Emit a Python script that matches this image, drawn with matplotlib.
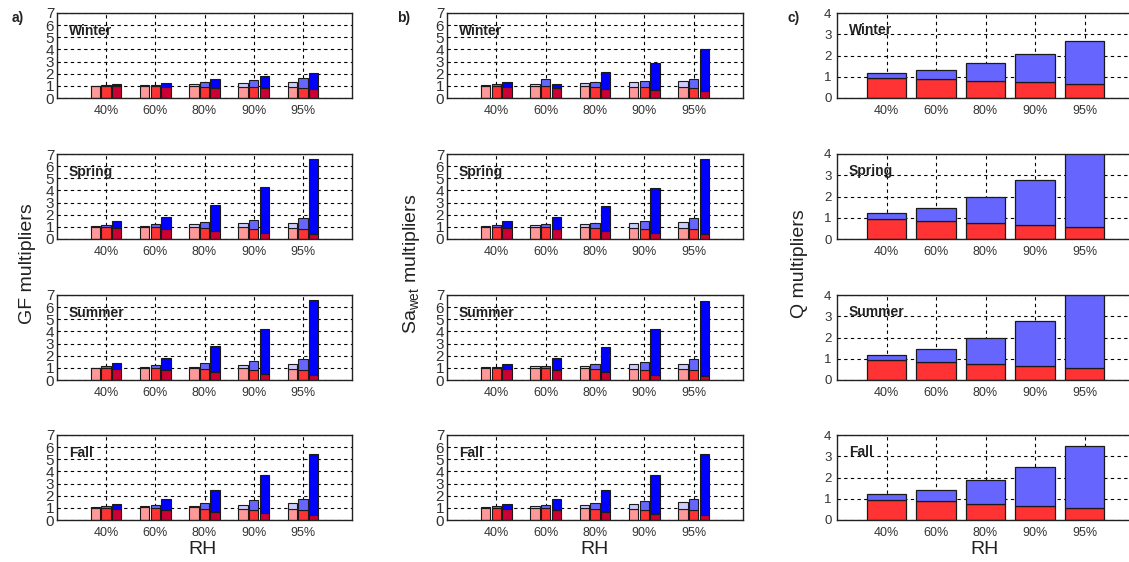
"""Seasonal GF, Sa_wet and Q multipliers vs RH, three columns of stacked bars."""

import numpy as np
import matplotlib
matplotlib.use("Agg")
import matplotlib.pyplot as plt

plt.rcParams["font.family"] = ["Liberation Sans", "DejaVu Sans"]

# --- data -------------------------------------------------------------------

RH_LABELS = ["40%", "60%", "80%", "90%", "95%"]
SEASONS = ["Winter", "Spring", "Summer", "Fall"]

# Panel a) GF multipliers: one row per season, three stacked bars per RH.
# *_LOW = lower (red) part, *_TOP = total height of the bar.
GF_B1_LOW = [[1.00, 1.00, 1.00, 0.94, 0.91], [1.00, 1.02, 0.98, 0.98, 0.93],
             [1.00, 1.00, 1.00, 0.95, 0.89], [1.00, 1.08, 1.04, 0.90, 0.87]]
GF_B1_TOP = [[1.02, 1.03, 1.15, 1.22, 1.30], [1.05, 1.05, 1.20, 1.28, 1.28],
             [1.02, 1.10, 1.11, 1.22, 1.33], [1.03, 1.12, 1.14, 1.23, 1.36]]
GF_B2_LOW = [[1.00, 0.98, 0.91, 0.94, 0.86], [0.95, 0.98, 0.93, 0.82, 0.82],
             [0.98, 0.98, 0.92, 0.81, 0.81], [0.98, 0.98, 0.93, 0.82, 0.82]]
GF_B2_TOP = [[1.03, 1.10, 1.30, 1.47, 1.63], [1.17, 1.26, 1.37, 1.53, 1.75],
             [1.14, 1.22, 1.38, 1.57, 1.71], [1.17, 1.25, 1.42, 1.61, 1.74]]
GF_B3_LOW = [[0.95, 0.90, 0.83, 0.86, 0.78], [0.90, 0.82, 0.68, 0.49, 0.41],
             [0.87, 0.81, 0.62, 0.46, 0.38], [0.93, 0.82, 0.63, 0.54, 0.44]]
GF_B3_TOP = [[1.15, 1.27, 1.55, 1.80, 2.05], [1.48, 1.83, 2.76, 4.26, 6.58],
             [1.41, 1.82, 2.79, 4.20, 6.56], [1.34, 1.74, 2.51, 3.68, 5.42]]

# Panel b) Sa_wet multipliers
SA_B1_LOW = [[0.98, 0.95, 0.95, 0.89, 0.89], [1.02, 0.98, 0.98, 0.90, 0.90],
             [1.00, 0.98, 0.95, 0.90, 0.88], [1.00, 0.98, 0.95, 0.90, 0.88]]
SA_B1_TOP = [[1.03, 1.14, 1.22, 1.30, 1.38], [1.05, 1.17, 1.26, 1.34, 1.42],
             [1.03, 1.12, 1.18, 1.28, 1.35], [1.05, 1.15, 1.25, 1.35, 1.50]]
SA_B2_LOW = [[0.95, 0.95, 0.89, 0.89, 0.81], [0.98, 0.96, 0.90, 0.82, 0.82],
             [0.98, 0.96, 0.90, 0.82, 0.80], [0.98, 0.96, 0.90, 0.82, 0.80]]
SA_B2_TOP = [[1.14, 1.54, 1.30, 1.38, 1.54], [1.15, 1.23, 1.31, 1.50, 1.72],
             [1.10, 1.18, 1.30, 1.50, 1.72], [1.15, 1.22, 1.40, 1.60, 1.75]]
SA_B3_LOW = [[0.89, 0.81, 0.73, 0.65, 0.57], [0.90, 0.82, 0.63, 0.46, 0.38],
             [0.88, 0.80, 0.62, 0.45, 0.37], [0.92, 0.82, 0.65, 0.52, 0.43]]
SA_B3_TOP = [[1.33, 1.14, 2.14, 2.90, 4.04], [1.45, 1.80, 2.73, 4.23, 6.58],
             [1.35, 1.78, 2.70, 4.20, 6.50], [1.33, 1.75, 2.45, 3.70, 5.45]]

# Panel c) Q multipliers, one stacked bar per RH
Q_LOW = [[0.95, 0.90, 0.79, 0.74, 0.65], [0.95, 0.86, 0.75, 0.66, 0.56],
         [0.95, 0.85, 0.74, 0.64, 0.55], [0.96, 0.88, 0.76, 0.67, 0.57]]
Q_TOP = [[1.18, 1.32, 1.66, 2.08, 2.70], [1.23, 1.48, 2.00, 2.77, 4.30],
         [1.20, 1.45, 1.98, 2.80, 4.30], [1.24, 1.43, 1.86, 2.51, 3.47]]

# --- style ------------------------------------------------------------------

W, H = 1129, 562
COL_LEFT = [57, 447, 837]      # px
COL_WIDTH = [295, 296, 297]    # px (panel c runs off the right edge)
ROW_BOTTOM = [98, 239, 380, 520]
ROW_HEIGHT = 85

LOW_COLORS = ["#ff9999", "#ff3333", "#cc0033"]
TOP_COLORS = ["#ccccff", "#6666ff", "#0000ff"]
EDGE = "#1a1a1a"
TEXT = "#222222"


def px_rect(left, bottom, width, height):
    return [left / W, 1 - bottom / H, width / W, height / H]


def style_axes(ax, ymax):
    ax.set_xlim(0, 6)
    ax.set_ylim(0, ymax)
    ax.set_xticks(range(1, 6))
    ax.set_xticklabels(RH_LABELS)
    ax.set_yticks(range(0, ymax + 1))
    ax.set_axisbelow(True)
    ax.grid(True, color="black", linestyle=(0, (3, 3)), linewidth=0.8)
    ax.tick_params(length=0, colors="#333333")
    ax.tick_params(axis="x", labelsize=9, pad=5)
    for s in ax.spines.values():
        s.set_color("#222222")
        s.set_linewidth(1.0)


def draw_triple(ax, lows, tops, season):
    x = np.arange(1, 6)
    for k, off in enumerate([-0.215, 0.0, 0.215]):
        low = np.array(lows[k])
        top = np.array(tops[k])
        ax.bar(x + off, low, 0.19, color=LOW_COLORS[k], edgecolor=EDGE, linewidth=0.8)
        ax.bar(x + off, top - low, 0.19, bottom=low, color=TOP_COLORS[k],
               edgecolor=EDGE, linewidth=0.8)
    style_axes(ax, 7)
    ax.tick_params(axis="y", labelsize=11, pad=2)
    for lab in ax.get_yticklabels():
        lab.set_family(["Liberation Sans Narrow", "Liberation Sans", "DejaVu Sans"])
    ax.text(0.24, 5.2, season, fontsize=10, fontweight="bold", color=TEXT,
            va="baseline")


def draw_q(ax, low, top, season):
    x = np.arange(1, 6)
    low = np.array(low)
    top = np.array(top)
    ax.bar(x, low, 0.8, color="#ff3333", edgecolor=EDGE, linewidth=0.9)
    ax.bar(x, top - low, 0.8, bottom=low, color="#6666ff", edgecolor=EDGE, linewidth=0.9)
    style_axes(ax, 4)
    ax.tick_params(axis="y", labelsize=9.5, pad=4)
    ax.text(0.24, 3.03, season, fontsize=10, fontweight="bold", color=TEXT,
            va="baseline")


fig = plt.figure(figsize=(W / 100, H / 100), dpi=100)

gf = [GF_B1_LOW, GF_B2_LOW, GF_B3_LOW], [GF_B1_TOP, GF_B2_TOP, GF_B3_TOP]
sa = [SA_B1_LOW, SA_B2_LOW, SA_B3_LOW], [SA_B1_TOP, SA_B2_TOP, SA_B3_TOP]

for r, season in enumerate(SEASONS):
    for c, (lows, tops) in enumerate([gf, sa]):
        ax = fig.add_axes(px_rect(COL_LEFT[c], ROW_BOTTOM[r], COL_WIDTH[c], ROW_HEIGHT))
        draw_triple(ax, [l[r] for l in lows], [t[r] for t in tops], season)
    ax = fig.add_axes(px_rect(COL_LEFT[2], ROW_BOTTOM[r], COL_WIDTH[2], ROW_HEIGHT))
    draw_q(ax, Q_LOW[r], Q_TOP[r], season)

# panel letters
for x, lab in [(12, "a)"), (397, "b)"), (787, "c)")]:
    fig.text(x / W, 1 - 18 / H, lab, fontsize=10, fontweight="bold", color=TEXT,
             va="center")

# axis titles
fig.text(27 / W, 1 - 264 / H, "GF multipliers", rotation=90, fontsize=14,
         ha="center", va="center", color=TEXT)
fig.text(411 / W, 1 - 264 / H, "Sa$_{\\mathregular{wet}}$ multipliers", rotation=90,
         fontsize=14, ha="center", va="center", color=TEXT)
fig.text(799 / W, 1 - 264 / H, "Q multipliers", rotation=90, fontsize=14,
         ha="center", va="center", color=TEXT)
for x in [203, 595, 985]:
    fig.text(x / W, 1 - 550 / H, "RH", fontsize=14, ha="center", va="center", color=TEXT)

fig.savefig("out.png", dpi=100)
